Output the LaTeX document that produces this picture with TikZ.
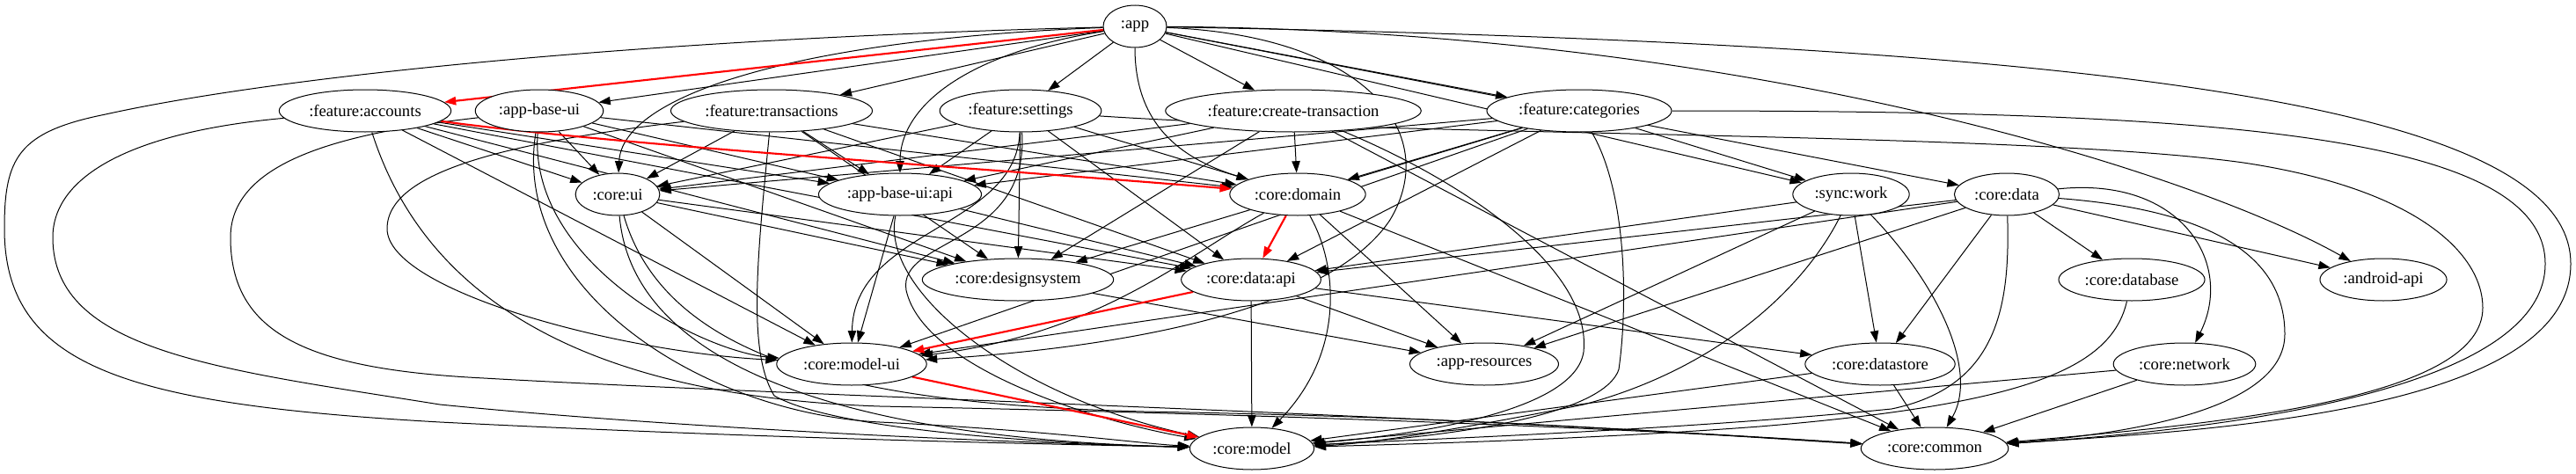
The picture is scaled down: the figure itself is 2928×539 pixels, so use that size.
\documentclass[tikz,border=0pt]{standalone}
\usepackage{fontspec}
\setmainfont{Liberation Serif}
\usetikzlibrary{arrows.meta,shapes.geometric,backgrounds}

\begin{document}
\begin{tikzpicture}[
    x=0.75pt, y=-0.75pt,
    mod/.style={draw, ellipse, fill=white, line width=0.75pt,
                minimum width=54pt, minimum height=36pt, inner xsep=4pt,
                font=\fontsize{14}{16}\selectfont},
    arr/.style={-{Triangle[length=10pt,width=7pt]}, line width=0.75pt},
    hot/.style={-{Triangle[length=10pt,width=7pt]}, line width=1.6pt, red}
  ]
  \useasboundingbox (0,0) rectangle (2928,539);

  % ---- rank 0 ----
  \node[mod] (app) at (1290,30) {:app};

  % ---- rank 1: features ----
  \node[mod] (facc) at (415,126) {:feature:accounts};
  \node[mod] (abui) at (613,126) {:app-base-ui};
  \node[mod] (ftx) at (877,126) {:feature:transactions};
  \node[mod] (fset) at (1160,126) {:feature:settings};
  \node[mod] (fcre) at (1470,126) {:feature:create-transaction};
  \node[mod] (fcat) at (1795,126) {:feature:categories};

  % ---- rank 2 ----
  \node[mod] (cui) at (702,221) {:core:ui};
  \node[mod] (abapi) at (1023,221) {:app-base-ui:api};
  \node[mod] (cdom) at (1475,221) {:core:domain};
  \node[mod] (sync) at (2104,221) {:sync:work};
  \node[mod] (cdata) at (2281,221) {:core:data};

  % ---- rank 3 ----
  \node[mod] (cds) at (1157,318) {:core:designsystem};
  \node[mod] (cdapi) at (1422,318) {:core:data:api};
  \node[mod] (cdb) at (2423,318) {:core:database};
  \node[mod] (andr) at (2709,318) {:android-api};

  % ---- rank 4 ----
  \node[mod] (cmui) at (968,414) {:core:model-ui};
  \node[mod] (ares) at (1687,414) {:app-resources};
  \node[mod] (cdst) at (2137,414) {:core:datastore};
  \node[mod] (cnet) at (2483,414) {:core:network};

  % ---- rank 5 ----
  \node[mod] (cmod) at (1423,510) {:core:model};
  \node[mod] (ccom) at (2199,510) {:core:common};

  \begin{scope}[on background layer]
    % ---- from :app ----
    \draw[arr] (app) -- (abui);
    \draw[arr] (app) -- (ftx);
    \draw[arr] (app) -- (fset);
    \draw[arr] (app) -- (fcre);
    \draw[arr] (app) -- (fcat);
    \draw[arr] (app) -- (sync);
    \draw[arr] (app) -- (cdata);
    \draw[arr] (app) .. controls (900,45) and (707,110) .. (cui);
    \draw[arr] (app) .. controls (1100,60) and (1023,120) .. (abapi);
    \draw[arr] (app) .. controls (1290,140) and (1340,180) .. (cdom);
    \draw[arr] (app) .. controls (2000,35) and (2500,200) .. (andr);
    \draw[arr] (app) .. controls (1550,40) and (1640,150) .. (1580,250)
                     .. controls (1500,370) and (1200,400) .. (cmui);
    \draw[arr] (app) .. controls (700,45) and (300,90) .. (120,130)
                     .. controls (20,150) and (5,180) .. (5,260)
                     .. controls (5,420) and (150,460) .. (500,480)
                     .. controls (900,500) and (1200,505) .. (cmod);
    \draw[arr] (app) .. controls (2400,50) and (2922,120) .. (2922,300)
                     .. controls (2922,470) and (2500,490) .. (ccom);

    % ---- from :feature:accounts ----
    \draw[arr] (facc) -- (cui);
    \draw[arr] (facc) -- (abapi);
    \draw[arr] (facc) -- (cds);
    \draw[arr] (facc) -- (cdapi);
    \draw[arr] (facc) -- (cmui);
    \draw[arr] (facc) .. controls (150,150) and (60,200) .. (60,270)
                      .. controls (60,400) and (250,420) .. (500,460)
                      .. controls (800,490) and (1200,505) .. (cmod);
    \draw[arr] (facc) .. controls (480,330) and (650,450) .. (1000,462)
                      .. controls (1500,472) and (1900,490) .. (ccom);

    % ---- from :app-base-ui ----
    \draw[arr] (abui) -- (cui);
    \draw[arr] (abui) -- (abapi);
    \draw[arr] (abui) -- (cds);
    \draw[arr] (abui) -- (cdom);
    \draw[arr] (abui) .. controls (600,300) and (800,400) .. (cmui);
    \draw[arr] (abui) .. controls (580,330) and (800,470) .. (1000,480)
                      .. controls (1200,490) and (1300,505) .. (cmod);
    \draw[arr] (abui) .. controls (400,150) and (262,180) .. (262,270)
                      .. controls (262,380) and (350,420) .. (550,430)
                      .. controls (900,450) and (1600,470) .. (ccom);

    % ---- from :feature:transactions ----
    \draw[arr] (ftx) -- (cui);
    \draw[arr] (ftx) -- (abapi);
    \draw[arr] (ftx) -- (cds);
    \draw[arr] (ftx) -- (cdom);
    \draw[arr] (ftx) -- (cdapi);
    \draw[arr] (ftx) .. controls (600,160) and (440,190) .. (440,260)
                     .. controls (440,330) and (700,400) .. (cmui);
    \draw[arr] (ftx) .. controls (860,300) and (850,400) .. (880,450)
                     .. controls (950,490) and (1200,505) .. (cmod);

    % ---- from :feature:settings ----
    \draw[arr] (fset) -- (cui);
    \draw[arr] (fset) -- (abapi);
    \draw[arr] (fset) -- (cds);
    \draw[arr] (fset) -- (cdom);
    \draw[arr] (fset) -- (cdapi);
    \draw[arr] (fset) .. controls (1155,260) and (970,260) .. (cmui);
    \draw[arr] (fset) .. controls (1170,280) and (1020,270) .. (1030,330)
                      .. controls (1050,420) and (1250,480) .. (cmod);
    \draw[arr] (fset) .. controls (1600,155) and (2300,150) .. (2550,185)
                      .. controls (2750,215) and (2822,290) .. (2822,350)
                      .. controls (2822,450) and (2550,480) .. (ccom);

    % ---- from :feature:create-transaction ----
    \draw[arr] (fcre) -- (cui);
    \draw[arr] (fcre) -- (abapi);
    \draw[arr] (fcre) -- (cds);
    \draw[arr] (fcre) -- (cdom);
    \draw[arr] (fcre) -- (ccom);
    \draw[arr] (fcre) .. controls (1650,200) and (1810,300) .. (1800,400)
                      .. controls (1790,470) and (1600,495) .. (cmod);

    % ---- from :feature:categories ----
    \draw[arr] (fcat) -- (cui);
    \draw[arr] (fcat) -- (abapi);
    \draw[arr] (fcat) -- (cds);
    \draw[arr] (fcat) -- (cdom);
    \draw[arr] (fcat) -- (cdapi);
    \draw[arr] (fcat) -- (cmui);
    \draw[arr] (fcat) -- (sync);
    \draw[arr] (fcat) .. controls (1850,220) and (1850,350) .. (1840,420)
                      .. controls (1820,480) and (1600,500) .. (cmod);
    \draw[arr] (fcat) .. controls (2500,126) and (2893,150) .. (2893,300)
                      .. controls (2893,450) and (2500,490) .. (ccom);

    % ---- rank 2 ----
    \draw[arr] (cui) -- (cds);
    \draw[arr] (cui) -- (cdapi);
    \draw[arr] (cui) -- (cmui);
    \draw[arr] (cui) .. controls (720,430) and (1000,500) .. (cmod);
    \draw[arr] (cui) .. controls (760,420) and (1000,460) .. (1300,468)
                     .. controls (1700,475) and (1950,495) .. (ccom);

    \draw[arr] (abapi) -- (cdapi);
    \draw[arr] (abapi) -- (cmui);
    \draw[arr] (abapi) .. controls (1000,330) and (1150,450) .. (cmod);

    \draw[arr] (cdom) -- (ccom);
    \draw[arr] (cdom) -- (ares);
    \draw[arr] (cdom) .. controls (1350,290) and (1250,380) .. (cmui);
    \draw[arr] (cdom) .. controls (1520,300) and (1530,400) .. (cmod);

    \draw[arr] (sync) -- (cdapi);
    \draw[arr] (sync) -- (ares);
    \draw[arr] (sync) -- (cdst);
    \draw[arr] (sync) .. controls (2200,320) and (2250,420) .. (ccom);
    \draw[arr] (sync) .. controls (2050,330) and (1950,420) .. (1800,460)
                      .. controls (1650,490) and (1550,505) .. (cmod);

    \draw[arr] (cdata) -- (cdapi);
    \draw[arr] (cdata) -- (cmui);
    \draw[arr] (cdata) -- (ares);
    \draw[arr] (cdata) -- (cdb);
    \draw[arr] (cdata) -- (cdst);
    \draw[arr] (cdata) -- (andr);
    \draw[arr] (cdata) .. controls (2480,200) and (2540,300) .. (cnet);
    \draw[arr] (cdata) .. controls (2285,350) and (2270,440) .. (2150,465)
                       .. controls (1900,490) and (1600,500) .. (cmod);
    \draw[arr] (cdata) .. controls (2530,240) and (2597,300) .. (2597,380)
                       .. controls (2597,470) and (2400,495) .. (ccom);

    % ---- rank 3 and below ----
    \draw[arr] (cds) -- (ares);
    \draw[arr] (cdapi) -- (ares);
    \draw[arr] (cdapi) -- (cdst);
    \draw[arr] (cdapi) -- (cmod);
    \draw[arr] (cdb) .. controls (2400,420) and (2300,460) .. (2000,485)
                     .. controls (1800,500) and (1600,505) .. (cmod);
    \draw[arr] (cdst) -- (cmod);
    \draw[arr] (cdst) -- (ccom);
    \draw[arr] (cnet) -- (cmod);
    \draw[arr] (cnet) -- (ccom);

    % ---- highlighted path ----
    \draw[hot] (app) -- (facc);
    \draw[hot] (facc) .. controls (700,165) and (1100,190) .. (cdom);
    \draw[hot] (cdom) -- (cdapi);
    \draw[hot] (cdapi) -- (cmui);
    \draw[hot] (cmui) -- (cmod);
  \end{scope}

\end{tikzpicture}
\end{document}
